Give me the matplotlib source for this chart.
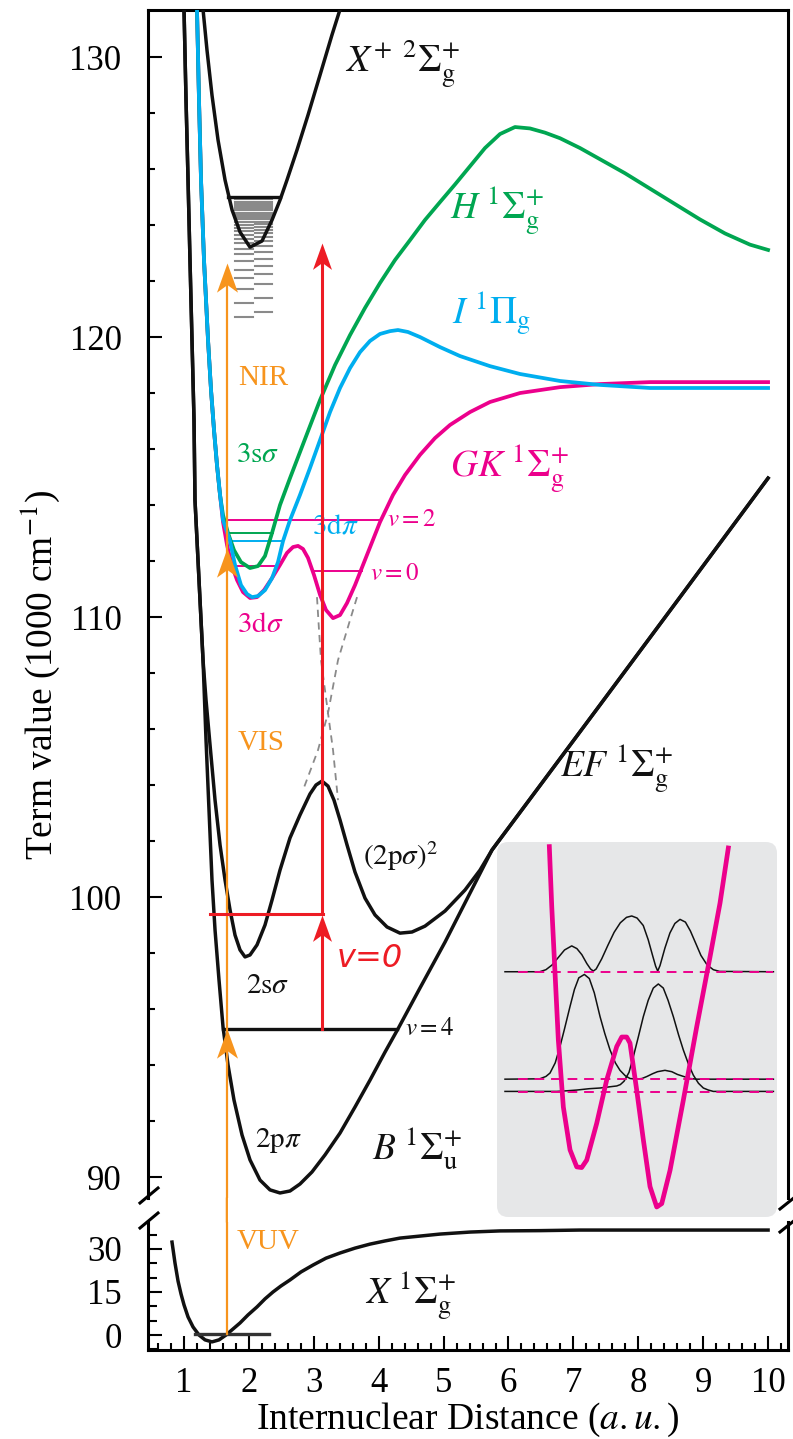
import matplotlib
matplotlib.use("Agg")
import matplotlib.pyplot as plt
from matplotlib.path import Path
from matplotlib.patches import FancyBboxPatch, ConnectionPatch
from matplotlib.lines import Line2D
from matplotlib.ticker import MultipleLocator, FixedLocator

plt.rcParams['font.family'] = ['Liberation Serif', 'DejaVu Serif']
plt.rcParams['mathtext.fontset'] = 'stix'

# ---------------- potential curves (R in a.u., E in 1000 cm^-1) ----------------
XP_R = [1.293, 1.354, 1.431, 1.524, 1.632, 1.740, 1.863, 2.017, 2.202, 2.356, 2.479, 2.587, 2.741,
        2.911, 3.096, 3.280, 3.404]
XP_E = [131.7, 130.25, 128.64, 127.04, 125.61, 124.54, 123.75, 123.21, 123.43, 124.18, 124.89,
        125.61, 126.68, 127.93, 129.36, 130.79, 131.7]

# common inner wall of the n=3 Rydberg states
WALL3_R = [1.200, 1.231, 1.262, 1.308, 1.370, 1.416, 1.462, 1.508, 1.555]
WALL3_E = [131.7, 128.46, 125.61, 122.75, 119.89, 118.11, 116.68, 115.43, 114.36]

H_R = WALL3_R + [1.601, 1.678, 1.770, 1.878, 2.017, 2.140, 2.248, 2.356, 2.479, 2.633, 2.787, 2.941,
                 3.096, 3.327, 3.558, 3.789, 4.020, 4.251, 4.482, 4.713, 4.945, 5.176, 5.407, 5.638,
                 5.869, 6.100, 6.331, 6.562, 6.794, 7.102, 7.410, 7.795, 8.180, 8.565, 8.951, 9.336,
                 9.721, 10.0]
H_E = WALL3_E + [113.64, 113.0, 112.39, 111.96, 111.75, 111.82, 112.18, 113.0, 114.0, 114.96, 115.89,
                 116.82, 117.75, 119.0, 120.07, 121.04, 121.93, 122.75, 123.46, 124.18, 124.82, 125.45,
                 126.1, 126.75, 127.25, 127.5, 127.45, 127.3, 127.1, 126.75, 126.35, 125.85, 125.3,
                 124.75, 124.2, 123.7, 123.3, 123.11]

I_R = WALL3_R + [1.601, 1.709, 1.786, 1.878, 1.971, 2.048, 2.140, 2.248, 2.356, 2.448, 2.525, 2.633,
                 2.787, 2.941, 3.096, 3.250, 3.404, 3.558, 3.712, 3.866, 4.020, 4.174, 4.297, 4.451,
                 4.636, 4.945, 5.253, 5.715, 6.177, 6.794, 7.410, 8.180, 10.0]
I_E = WALL3_E + [113.46, 112.71, 111.86, 111.14, 110.82, 110.71, 110.75, 110.96, 111.39, 111.96,
                 112.71, 113.46, 114.36, 115.32, 116.32, 117.32, 118.18, 118.89, 119.46, 119.86,
                 120.11, 120.21, 120.25, 120.18, 120.0, 119.64, 119.32, 118.96, 118.68, 118.43,
                 118.29, 118.18, 118.18]

GK_R = WALL3_R + [1.601, 1.663, 1.740, 1.817, 1.909, 2.017, 2.125, 2.233, 2.356, 2.479, 2.587, 2.680,
                  2.757, 2.834, 2.911, 3.003, 3.096, 3.188, 3.296, 3.404, 3.512, 3.635, 3.789, 4.020,
                  4.220, 4.405, 4.636, 4.867, 5.099, 5.407, 5.715, 6.177, 6.794, 7.410, 8.180, 10.0]
GK_E = WALL3_E + [113.39, 112.57, 111.82, 111.32, 110.89, 110.68, 110.71, 110.96, 111.39, 111.86,
                  112.29, 112.5, 112.54, 112.43, 112.11, 111.5, 110.79, 110.25, 109.96, 110.07,
                  110.5, 111.14, 112.04, 113.39, 114.36, 115.07, 115.79, 116.39, 116.86, 117.32,
                  117.68, 118.0, 118.21, 118.32, 118.39, 118.39]

# B and EF share the steep inner wall and the long-range branch
WALL2_R = [1.000, 1.031, 1.062, 1.092, 1.123, 1.154, 1.169, 1.231, 1.293]
WALL2_E = [131.7, 128.46, 125.61, 122.75, 119.89, 117.04, 114.18, 111.32, 108.46]
OUTER_R = [5.746, 6.331, 7.410, 8.643, 10.0]
OUTER_E = [101.68, 103.5, 106.86, 110.71, 114.96]

B_R = WALL2_R + [1.339, 1.385, 1.431, 1.478, 1.539, 1.601, 1.678, 1.770, 1.894, 2.017, 2.171, 2.325,
                 2.479, 2.633, 2.787, 2.972, 3.173, 3.404, 3.635, 3.866, 4.097, 4.297, 4.636, 5.022,
                 5.376] + OUTER_R
B_E = WALL2_E + [105.61, 103.11, 100.61, 98.82, 97.04, 95.36, 94.0, 92.75, 91.5, 90.61, 89.89, 89.54,
                 89.43, 89.5, 89.75, 90.18, 90.79, 91.57, 92.5, 93.46, 94.46, 95.29, 96.75, 98.39,
                 100.0] + OUTER_E

EF_R = WALL2_R + [1.339, 1.401, 1.478, 1.555, 1.632, 1.709, 1.786, 1.863, 1.940, 2.017, 2.125, 2.248,
                  2.356, 2.479, 2.633, 2.787, 2.941, 3.034, 3.126, 3.219, 3.311, 3.404, 3.512, 3.635,
                  3.789, 3.943, 4.128, 4.328, 4.513, 4.713, 5.022, 5.330, 5.561] + OUTER_R
EF_E = WALL2_E + [107.04, 105.43, 103.46, 101.86, 100.61, 99.54, 98.64, 98.11, 97.86, 97.93, 98.29,
                  99.0, 99.89, 100.96, 102.11, 102.93, 103.68, 104.0, 104.14, 103.96, 103.46, 102.75,
                  101.86, 100.89, 99.96, 99.36, 98.93, 98.71, 98.75, 98.96, 99.5, 100.25,
                  100.96] + OUTER_E

# diabatic crossing (dashed)
DA_R = [3.049, 3.080, 3.111, 3.219, 3.296, 3.373]
DA_E = [110.71, 109.54, 108.46, 106.57, 105.25, 103.46]
DB_R = [3.666, 3.558, 3.373, 3.219, 3.065, 2.834]
DB_E = [110.71, 109.89, 108.46, 106.57, 105.25, 103.82]

# ground state (lower panel, 1000 cm^-1)
X_R = [0.815, 0.861, 0.908, 0.954, 1.0, 1.062, 1.139, 1.231, 1.324, 1.431, 1.539, 1.647, 1.755, 1.863,
       1.986, 2.125, 2.248, 2.371, 2.494, 2.633, 2.803, 2.988, 3.188, 3.404, 3.635, 3.866, 4.097,
       4.328, 4.636, 4.945, 5.407, 5.869, 6.485, 7.10, 10.0]
X_E = [32.4, 25.1, 18.8, 14.3, 10.5, 6.3, 2.8, 0.0, -1.7, -2.4, -1.7, 0.0, 2.1, 4.2, 7.0, 9.8, 12.6,
       15.0, 17.1, 19.2, 22.0, 24.4, 26.8, 28.6, 30.3, 31.7, 32.8, 33.8, 34.5, 35.2, 35.9, 36.3, 36.4,
       36.6, 36.6]

# Rydberg ladder below the X+ limit
RYD1 = [120.7, 121.2, 121.7, 122.1, 122.4, 122.7, 122.95, 123.15, 123.35, 123.5, 123.65, 123.78,
        123.9, 124.0, 124.1, 124.2, 124.28, 124.36, 124.44, 124.52, 124.6, 124.68, 124.76, 124.84,
        124.92]
RYD2 = [120.9, 121.4, 121.9, 122.25, 122.55, 122.8, 123.05, 123.25, 123.42, 123.57, 123.7, 123.82,
        123.93, 124.03, 124.12, 124.2, 124.28, 124.36, 124.44, 124.52, 124.6, 124.68, 124.76, 124.84,
        124.92]
XP_LIMIT = 125.0

# vibrational levels
B_V4 = 95.29
EF_V0 = 99.4
GK_V2 = 113.46
GK_V0 = 111.64
GK_IN = 111.82
H_LEV = 113.0
I_LEV = 112.71
X_V0 = 0.5

# excitation scheme
R_LASER = 1.66
ORANGE_TIPS = [95.29, 112.45, 122.65]
R_PROBE = 3.13
RED_TOP = 123.35

# ---------------- inset: GK double well with wavefunctions ----------------
IN_GK_R = [1.555, 1.594, 1.647, 1.700, 1.781, 1.889, 1.997, 2.077, 2.158, 2.319, 2.481, 2.642, 2.723,
           2.803, 2.856, 2.964, 3.071, 3.179, 3.287, 3.368, 3.502, 3.716, 3.932, 4.147, 4.308, 4.442]
IN_GK_E = [115.30, 114.42, 113.44, 112.46, 111.47, 110.84, 110.59, 110.58, 110.69, 111.23, 111.87,
           112.36, 112.50, 112.50, 112.41, 111.72, 110.99, 110.30, 110.00, 110.05, 110.54, 111.57,
           112.65, 113.68, 114.47, 115.28]
PSI2_R = [0.840, 1.40, 1.50, 1.60, 1.70, 1.80, 1.916, 2.00, 2.08, 2.16, 2.22, 2.265, 2.31, 2.40, 2.50,
          2.60, 2.70, 2.80, 2.884, 2.97, 3.07, 3.15, 3.22, 3.27, 3.303, 3.34, 3.42, 3.50, 3.58, 3.663,
          3.75, 3.83, 3.92, 4.00, 4.10, 4.20, 4.30, 5.169]
PSI2_E = [113.46, 113.46, 113.49, 113.56, 113.67, 113.78, 113.84, 113.80, 113.71, 113.58, 113.50,
          113.47, 113.50, 113.65, 113.85, 114.04, 114.18, 114.26, 114.28, 114.25, 114.14, 113.93,
          113.70, 113.54, 113.47, 113.55, 113.81, 114.03, 114.17, 114.23, 114.19, 114.06, 113.87,
          113.70, 113.56, 113.49, 113.465, 113.46]
PSIA_R = [0.840, 1.40, 1.50, 1.566, 1.65, 1.727, 1.80, 1.889, 1.96, 2.03, 2.12, 2.20, 2.28, 2.373, 2.45,
          2.534, 2.62, 2.695, 2.78, 2.856, 2.964, 3.05, 3.13, 3.22, 3.30, 3.42, 3.53, 3.62, 3.72, 3.82,
          3.932, 5.169]
PSIA_E = [111.88, 111.885, 111.92, 111.97, 112.12, 112.36, 112.62, 112.95, 113.20, 113.37, 113.42,
          113.36, 113.15, 112.80, 112.55, 112.31, 112.12, 112.01, 111.93, 111.89, 111.88, 111.89,
          111.92, 111.96, 111.99, 112.01, 111.99, 111.95, 111.92, 111.89, 111.88, 111.88]
PSIB_R = [0.840, 1.674, 1.85, 1.997, 2.20, 2.373, 2.55, 2.642, 2.70, 2.76, 2.84, 2.91, 2.99, 3.071,
          3.15, 3.232, 3.313, 3.393, 3.47, 3.555, 3.64, 3.716, 3.80, 3.877, 3.96, 4.039, 4.12, 4.200,
          5.169]
PSIB_E = [111.70, 111.70, 111.71, 111.72, 111.74, 111.75, 111.77, 111.78, 111.80, 111.85, 111.98,
          112.21, 112.50, 112.80, 113.04, 113.22, 113.28, 113.22, 113.04, 112.80, 112.53, 112.31,
          112.10, 111.94, 111.82, 111.75, 111.72, 111.70, 111.70]
IN_LEVELS = [113.46, 111.88, 111.69]

# ---------------- colours ----------------
BLACK = '#111111'
GREEN = '#00A651'
BLUE = '#00AEEF'
MAGENTA = '#EC008C'
RED = '#ED1C24'
ORANGE = '#F7941D'
GREY = '#8A8A8A'

W, H = 793, 1439
fig = plt.figure(figsize=(W / 100, H / 100), dpi=100)


def px_box(l, t, r, b):
    return [l / W, 1 - b / H, (r - l) / W, (b - t) / H]


ax = fig.add_axes(px_box(148, 10, 788, 1198))
axl = fig.add_axes(px_box(148, 1222, 788, 1350))

XLIM = (0.445, 10.307)
for a in (ax, axl):
    a.set_xlim(*XLIM)
    for s in a.spines.values():
        s.set_linewidth(2.2)
ax.set_ylim(89.25, 131.68)
axl.set_ylim(-5.23, 39.41)

ax.spines['bottom'].set_visible(False)
axl.spines['top'].set_visible(False)

TICK_FS = 25
ax.yaxis.set_major_locator(FixedLocator([90, 100, 110, 120, 130]))
ax.yaxis.set_minor_locator(MultipleLocator(2))
ax.tick_params(axis='y', which='major', direction='in', length=10, width=1.5, labelsize=TICK_FS, pad=19)
ax.tick_params(axis='y', which='minor', direction='in', length=5, width=1.5)
ax.tick_params(axis='x', which='both', bottom=False, top=False, labelbottom=False)

axl.yaxis.set_major_locator(FixedLocator([0, 15, 30]))
axl.yaxis.set_minor_locator(MultipleLocator(5))
axl.tick_params(axis='y', which='major', direction='in', length=10, width=1.5, labelsize=TICK_FS, pad=19)
axl.tick_params(axis='y', which='minor', direction='in', length=6.5, width=1.5)
axl.xaxis.set_major_locator(FixedLocator(range(1, 11)))
axl.xaxis.set_minor_locator(MultipleLocator(0.2))
axl.tick_params(axis='x', which='major', direction='in', length=10, width=1.5, labelsize=TICK_FS, pad=12)
axl.tick_params(axis='x', which='minor', direction='in', length=5, width=1.5)

LW = 2.5

# upper panel curves
ax.plot(B_R, B_E, color=BLACK, lw=LW, zorder=3)
ax.plot(EF_R, EF_E, color=BLACK, lw=LW, zorder=3)
ax.plot(XP_R, XP_E, color=BLACK, lw=LW, zorder=3)
ax.plot(DA_R, DA_E, color=GREY, lw=1.3, ls=(0, (4, 3)), zorder=2)
ax.plot(DB_R, DB_E, color=GREY, lw=1.3, ls=(0, (4, 3)), zorder=2)
ax.plot(GK_R, GK_E, color=MAGENTA, lw=2.7, zorder=4)
ax.plot(H_R, H_E, color=GREEN, lw=2.7, zorder=4)
ax.plot(I_R, I_E, color=BLUE, lw=2.7, zorder=4)

# Rydberg ladder and ionisation limit
for e in RYD1:
    ax.plot([1.786, 2.063], [e, e], color=GREY, lw=1.5, zorder=2)
for e in RYD2:
    ax.plot([2.094, 2.356], [e, e], color=GREY, lw=1.5, zorder=2)
ax.plot([1.678, 2.479], [XP_LIMIT, XP_LIMIT], color=BLACK, lw=2.4, zorder=3)

# vibrational levels
ax.plot([1.60, 4.28], [B_V4, B_V4], color=BLACK, lw=2.4, zorder=3)
ax.plot([1.60, 4.02], [GK_V2, GK_V2], color=MAGENTA, lw=1.4, zorder=3)
ax.plot([2.99, 3.74], [GK_V0, GK_V0], color=MAGENTA, lw=1.4, zorder=3)
ax.plot([1.74, 2.48], [GK_IN, GK_IN], color=MAGENTA, lw=1.4, zorder=3)
ax.plot([1.71, 2.37], [H_LEV, H_LEV], color=GREEN, lw=1.4, zorder=3)
ax.plot([1.71, 2.53], [I_LEV, I_LEV], color=BLUE, lw=1.4, zorder=3)

# arrowhead marker (tip at the data point)
stealth = Path([(0, 0), (-0.36, -1), (0, -0.74), (0.36, -1), (0, 0)],
               [Path.MOVETO, Path.LINETO, Path.LINETO, Path.LINETO, Path.CLOSEPOLY])

# laser excitation (orange)
ax.plot([R_LASER, R_LASER], [89.25, ORANGE_TIPS[-1] - 0.5], color=ORANGE, lw=1.6, zorder=5)
axl.plot([R_LASER, R_LASER], [X_V0, 39.41], color=ORANGE, lw=1.6, zorder=5)
fig.add_artist(ConnectionPatch(xyA=(R_LASER, 39.41), coordsA=axl.transData,
                               xyB=(R_LASER, 89.25), coordsB=ax.transData,
                               color=ORANGE, lw=1.6))
ax.plot([R_LASER] * 3, ORANGE_TIPS, ls='none', marker=stealth, ms=42, color=ORANGE, mew=0, zorder=6)

# probe (red)
ax.plot([1.40, R_PROBE + 0.015], [EF_V0, EF_V0], color=RED, lw=2.2, zorder=6)
ax.plot([R_PROBE, R_PROBE], [B_V4, EF_V0 - 0.5], color=RED, lw=2.2, zorder=6)
ax.plot([R_PROBE, R_PROBE], [EF_V0, RED_TOP - 0.5], color=RED, lw=2.2, zorder=6)
ax.plot([R_PROBE, R_PROBE], [EF_V0 - 0.04, RED_TOP], ls='none', marker=stealth, ms=38,
        color=RED, mew=0, zorder=7)

# lower panel
axl.plot(X_R, X_E, color=BLACK, lw=LW, zorder=3)
axl.plot([1.17, 2.31], [X_V0, X_V0], color='#333333', lw=2.4, zorder=4)


# axis break marks
def fig_line(x1, y1, x2, y2):
    fig.add_artist(Line2D([x1 / W, x2 / W], [1 - y1 / H, 1 - y2 / H], transform=fig.transFigure,
                          color='black', lw=2.2))


fig_line(140, 1203, 158, 1188)
fig_line(140, 1228, 158, 1213)
fig_line(780, 1209, 795, 1197)
fig_line(780, 1232, 795, 1220)

# labels
BIG = 27
SMALL = 21
ax.text(3.48, 129.43, r"$X^{+}\ {}^{2}\Sigma_{\mathrm{g}}^{+}$", fontsize=BIG, color=BLACK)
ax.text(5.10, 124.18, r"$H\ {}^{1}\Sigma_{\mathrm{g}}^{+}$", fontsize=BIG, color=GREEN)
ax.text(5.13, 120.43, r"$I\ {}^{1}\Pi_{\mathrm{g}}$", fontsize=BIG, color=BLUE)
ax.text(5.10, 114.96, r"$GK\ {}^{1}\Sigma_{\mathrm{g}}^{+}$", fontsize=BIG, color=MAGENTA)
ax.text(6.79, 104.25, r"$EF\ {}^{1}\Sigma_{\mathrm{g}}^{+}$", fontsize=BIG, color=BLACK)
ax.text(3.90, 90.61, r"$B\ {}^{1}\Sigma_{\mathrm{u}}^{+}$", fontsize=BIG, color=BLACK)
axl.text(3.79, 10.46, r"$X\ {}^{1}\Sigma_{\mathrm{g}}^{+}$", fontsize=BIG, color=BLACK)

ax.text(1.83, 118.29, "NIR", fontsize=SMALL, color=ORANGE)
ax.text(1.83, 105.25, "VIS", fontsize=SMALL, color=ORANGE)
axl.text(1.817, 30.0, "VUV", fontsize=SMALL, color=ORANGE)
ax.text(1.80, 115.54, r"$\mathrm{3s}\sigma$", fontsize=SMALL, color=GREEN)
ax.text(2.97, 113.0, r"$\mathrm{3d}\pi$", fontsize=SMALL, color=BLUE)
ax.text(1.82, 109.46, r"$\mathrm{3d}\sigma$", fontsize=SMALL, color=MAGENTA)
ax.text(3.76, 101.14, r"$(\mathrm{2p}\sigma)^{2}$", fontsize=SMALL, color=BLACK)
ax.text(1.955, 96.57, r"$\mathrm{2s}\sigma$", fontsize=SMALL, color=BLACK)
ax.text(2.094, 91.07, r"$\mathrm{2p}\pi$", fontsize=SMALL, color=BLACK)

ax.text(3.36, 97.5, "v=0", fontsize=23, color=RED, family='DejaVu Sans', style='oblique')
ax.text(4.40, B_V4, r"$v = 4$", fontsize=18, color=BLACK, va='center')
ax.text(4.13, GK_V2, r"$v = 2$", fontsize=18, color=MAGENTA, va='center')
ax.text(3.87, GK_V0 - 0.1, r"$v = 0$", fontsize=18, color=MAGENTA, va='center')

fig.text(40 / W, 1 - 675 / H, r"Term value (1000 cm$^{-1}$)", rotation=90, fontsize=27,
         ha='center', va='center')
fig.text(468 / W, 1 - 1420 / H, r"Internuclear Distance ($a.u.$)", fontsize=27,
         ha='center', va='center')

# inset
axi = fig.add_axes(px_box(497, 842, 777, 1217))
axi.set_axis_off()
axi.set_xlim(0.711, 5.227)
axi.set_ylim(109.853, 115.368)
axi.add_patch(FancyBboxPatch((0, 0), 1, 1, boxstyle="round,pad=0,rounding_size=0.04",
                             mutation_aspect=280 / 375, transform=axi.transAxes,
                             facecolor='#E6E7E8', edgecolor='none', zorder=0))
axi.plot(PSI2_R, PSI2_E, color=BLACK, lw=1.1, zorder=2)
axi.plot(PSIA_R, PSIA_E, color=BLACK, lw=1.1, zorder=2)
axi.plot(PSIB_R, PSIB_E, color=BLACK, lw=1.1, zorder=2)
for e in IN_LEVELS:
    axi.plot([1.05, 5.169], [e, e], color=MAGENTA, lw=1.4, ls=(0, (5, 3.5)), zorder=3)
axi.plot(IN_GK_R, IN_GK_E, color=MAGENTA, lw=3.4, zorder=4)

fig.savefig("out.png", dpi=100)
